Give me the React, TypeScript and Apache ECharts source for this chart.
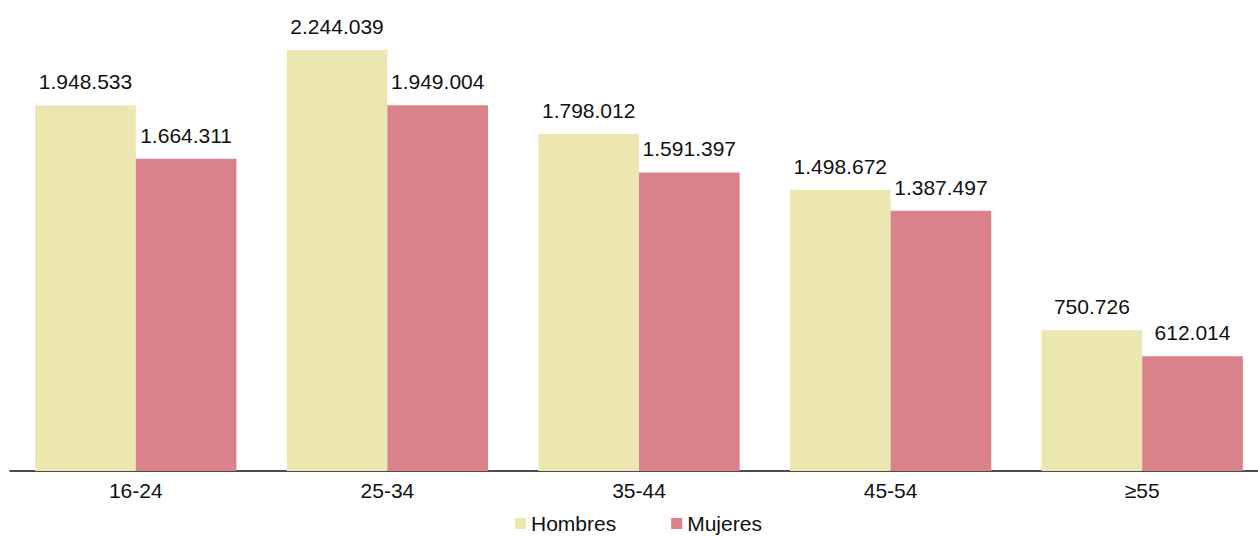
import React, { useEffect, useRef } from "react";
import * as echarts from "echarts";

const categories = ["16-24", "25-34", "35-44", "45-54", "≥55"];
const hombres = [1948533, 2244039, 1798012, 1498672, 750726];
const mujeres = [1664311, 1949004, 1591397, 1387497, 612014];

const fmt = (v: number) => String(v).replace(/\B(?=(\d{3})+(?!\d))/g, ".");

export default function App() {
  const ref = useRef<HTMLDivElement>(null);
  useEffect(() => {
    document.body.style.margin = "0";
    document.body.style.overflow = "hidden";
    const chart = echarts.init(ref.current!, null, { renderer: "svg" });
    const font = "Liberation Sans, Arial, sans-serif";
    const label = {
      show: true,
      position: "top" as const,
      distance: 13,
      fontSize: 21,
      fontFamily: font,
      color: "#111",
      formatter: (p: any) => fmt(p.value),
    };
    chart.setOption({
      animation: false,
      textStyle: { fontFamily: font },
      grid: { left: 10, right: 0, top: 2, bottom: 65, containLabel: false },
      legend: {
        top: 508,
        left: 510,
        padding: [5, 5, 0, 5],
        icon: "rect",
        itemWidth: 11,
        itemHeight: 11,
        itemGap: 55,
        textStyle: { fontSize: 21, color: "#111", fontFamily: font },
        data: ["Hombres", "Mujeres"],
      },
      xAxis: {
        type: "category",
        data: categories,
        axisLine: { lineStyle: { color: "#111", width: 1.5 } },
        axisTick: { show: false },
        axisLabel: { fontSize: 21, color: "#111", fontFamily: font, margin: 9 },
      },
      yAxis: {
        type: "value",
        min: 0,
        max: 2500000,
        show: false,
        splitLine: { show: false },
      },
      series: [
        {
          name: "Hombres",
          type: "bar",
          data: hombres,
          barGap: "0%",
          barCategoryGap: "20%",
          itemStyle: { color: "#ECE7B0" },
          label,
        },
        {
          name: "Mujeres",
          type: "bar",
          data: mujeres,
          barGap: "0%",
          barCategoryGap: "20%",
          itemStyle: { color: "#D9828A" },
          label,
        },
      ],
    });
    return () => chart.dispose();
  }, []);
  return (
    <div
      ref={ref}
      style={{ position: "absolute", left: 0, top: 0, width: 1268, height: 536 }}
    />
  );
}
